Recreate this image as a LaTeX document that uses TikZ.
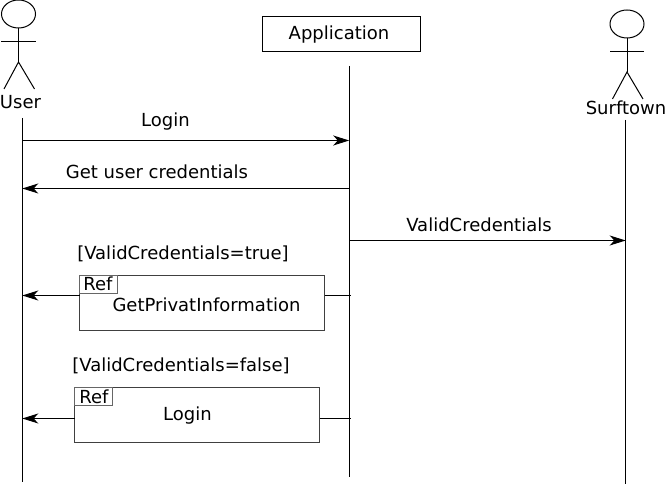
\documentclass[tikz,border=0pt]{standalone}
\usepackage{fontspec}
\setmainfont{DejaVu Sans}
\usetikzlibrary{arrows.meta}
\tikzset{
  x=0.75pt,y=-0.75pt,
  every node/.style={inner sep=0pt,outer sep=0pt,font=\fontsize{13.5pt}{15pt}\selectfont,text=black},
  ln/.style={draw=black,line width=0.75pt},
  msg/.style={ln,-{Stealth[length=12pt,width=7.5pt,inset=3.5pt]}},
  refbox/.style={draw=black!75,line width=0.75pt,fill=white},
  reftab/.style={draw=black!60,line width=0.5pt,fill=white},
  lbl/.style={anchor=base},
}
\newcommand{\stick}[2]{%
  \draw[ln] (#1,#2) circle[x radius=17,y radius=14];
  \draw[ln] (#1,#2+14) -- (#1,#2+48);
  \draw[ln] (#1-17,#2+28) -- (#1+17,#2+28);
  \draw[ln] (#1-14.5,#2+75) -- (#1,#2+48) -- (#1+16,#2+75);
}
\begin{document}
\begin{tikzpicture}
\useasboundingbox (0,0) rectangle (665,484);
% actors
\stick{18.5}{14}
\stick{627}{24}
\node[lbl] (user) at (20.5,108.5) {User};
\node[lbl] (surf) at (626,114.5) {Surftown};
\node[draw=black,line width=0.75pt,minimum width=118.5pt,minimum height=26.25pt,anchor=center] (app) at (341.5,34.5) {};
\node[lbl] (applbl) at (339,39.5) {Application};
% lifeline ends
\coordinate (ut) at (22.3,118);
\coordinate (ub) at (22.3,482);
\coordinate (at) at (349.2,66);
\coordinate (ab) at (349.2,477);
\coordinate (st) at (625.7,120);
\coordinate (sb) at (625.7,484);
\draw[ln] (ut) -- (ub);
\draw[ln] (at) -- (ab);
\draw[ln] (st) -- (sb);
% message anchors
\coordinate (u1) at (22.3,140.5);
\coordinate (a1) at (349.2,140.5);
\coordinate (u2) at (22.3,188.5);
\coordinate (a2) at (349.2,188.5);
\coordinate (a3) at (349.2,240.5);
\coordinate (s3) at (625.7,240.5);
\coordinate (u4) at (22.3,295.5);
\coordinate (a4) at (351,295.5);
\coordinate (u5) at (22.3,418.5);
\coordinate (a5) at (351,418.5);
\draw[msg] (u1) -- (a1);
\draw[msg] (a2) -- (u2);
\draw[msg] (a3) -- (s3);
\node[lbl] (m1) at (165.5,126.5) {Login};
\node[lbl] (m2) at (157,178.5) {Get user credentials};
\node[lbl] (m3) at (479,231.5) {ValidCredentials};
\node[lbl] (g1) at (183,259.5) {[ValidCredentials=true]};
\node[lbl] (g2) at (181,372) {[ValidCredentials=false]};
% ref 1
\node[refbox,anchor=north west,minimum width=183.75pt,minimum height=41.25pt] (r1) at (79.5,275.5) {};
\node[reftab,anchor=north west,minimum width=28.5pt,minimum height=13.5pt] (t1) at (79.5,275.5) {};
\node[lbl] (t1l) at (98,290.5) {Ref};
\node[lbl] (r1l) at (206.5,312) {GetPrivatInformation};
\draw[msg] (r1.west |- u4) -- (u4);
\draw[ln] (r1.east |- a4) -- (a4);
% ref 2
\node[refbox,anchor=north west,minimum width=183.75pt,minimum height=41.25pt] (r2) at (74.5,387.5) {};
\node[reftab,anchor=north west,minimum width=28.5pt,minimum height=13.5pt] (t2) at (74.5,387.5) {};
\node[lbl] (t2l) at (94,403.5) {Ref};
\node[lbl] (r2l) at (187.5,420.5) {Login};
\draw[msg] (r2.west |- u5) -- (u5);
\draw[ln] (r2.east |- a5) -- (a5);
\end{tikzpicture}
\end{document}
